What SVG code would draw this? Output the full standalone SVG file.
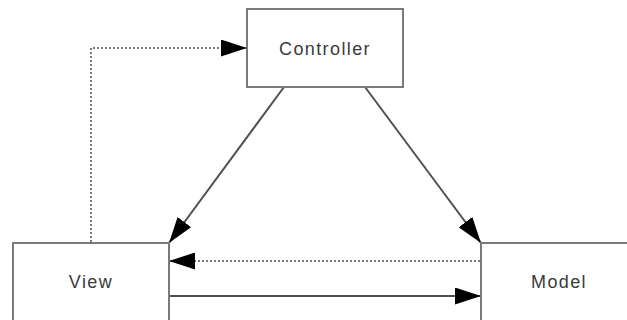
<svg xmlns="http://www.w3.org/2000/svg" width="627" height="320" viewBox="0 0 627 320">
<defs>
<style>
.box{fill:#fff;stroke:#7a7a7a;stroke-width:2}
.lbl{font-family:"Liberation Sans",Arial,sans-serif;font-size:18px;fill:#3a3a3a;text-anchor:middle;letter-spacing:1.4px}
.solid{stroke:#505050;stroke-width:2;fill:none}
.dot{stroke:#777;stroke-width:2;stroke-dasharray:2 2;fill:none}
</style>
<marker id="ah" viewBox="0 0 26 17" refX="26" refY="8.5" markerWidth="26" markerHeight="17" markerUnits="userSpaceOnUse" orient="auto">
<path d="M0,0 L26,8.5 L0,17 Z" fill="#000"/>
</marker>
</defs>
<rect width="627" height="320" fill="#fff"/>
<g id="connectors">
<polyline class="dot" points="91,242 91,48 247,48" marker-end="url(#ah)"/>
<line class="dot" x1="480" y1="261" x2="169" y2="261" marker-end="url(#ah)"/>
<line class="solid" x1="169" y1="296" x2="481" y2="296" marker-end="url(#ah)"/>
<line class="solid" x1="284" y1="87" x2="169" y2="243" marker-end="url(#ah)"/>
<line class="solid" x1="365" y1="87" x2="481" y2="243" marker-end="url(#ah)"/>
</g>
<g id="controller">
<rect class="box" x="247" y="9" width="156" height="78"/>
<text class="lbl" x="325" y="54.5">Controller</text>
</g>
<g id="view">
<rect class="box" x="13" y="243" width="156" height="78"/>
<text class="lbl" x="91" y="288">View</text>
</g>
<g id="model">
<rect class="box" x="481" y="243" width="156" height="78"/>
<text class="lbl" x="559" y="288">Model</text>
</g>
</svg>
